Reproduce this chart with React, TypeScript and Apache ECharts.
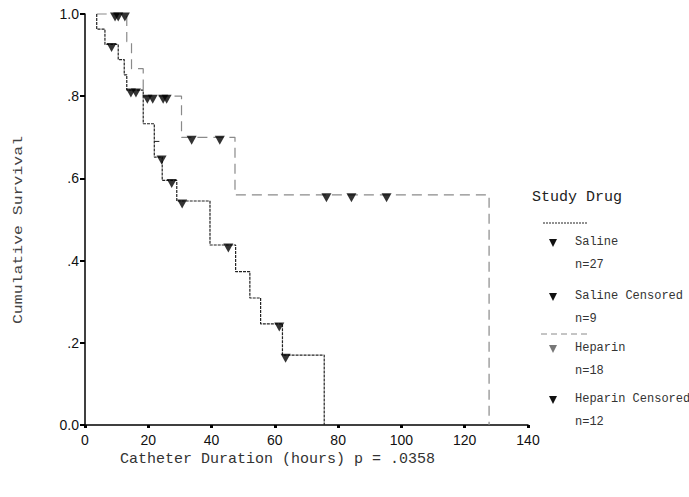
import React, { useEffect, useRef } from "react";
import * as echarts from "echarts";

// Tick labels
const xTicks = [0, 20, 40, 60, 80, 100, 120, 140];
const yTickLabels: Record<string, string> = { "0": "0.0", "0.2": ".2", "0.4": ".4", "0.6": ".6", "0.8": ".8", "1": "1.0" };

// Kaplan-Meier step points: [hours, cumulative survival]
const salineSteps: [number, number][] = [
  [3.7, 1.0], [3.7, 0.963], [6.3, 0.926], [10.5, 0.889], [12.4, 0.852], [13.2, 0.815],
  [18.4, 0.733], [21.9, 0.652], [24.4, 0.595], [29.0, 0.545], [39.5, 0.438],
  [47.6, 0.373], [52.1, 0.309], [55.5, 0.246], [62.4, 0.17], [75.6, 0.0],
];
const salineTick: [number, number][] = [[21.9, 0.69], [23.5, 0.69]];
const salineCensored: [number, number][] = [
  [8.4, 0.926], [14.5, 0.815], [16.1, 0.815], [24.2, 0.652], [27.4, 0.595],
  [30.7, 0.545], [45.3, 0.438], [61.4, 0.246], [63.4, 0.17],
];
const heparinSteps: [number, number][] = [
  [3.7, 1.0], [13.2, 0.933], [14.7, 0.867], [18.4, 0.8], [30.5, 0.7], [47.4, 0.56], [127.7, 0.0],
];
const heparinCensored: [number, number][] = [
  [9.5, 1.0], [10.5, 1.0], [12.6, 1.0], [19.7, 0.8], [21.4, 0.8], [24.7, 0.8], [25.8, 0.8],
  [33.7, 0.7], [42.6, 0.7], [76.3, 0.56], [84.2, 0.56], [95.3, 0.56],
];

// Legend texts
const legendTitle = "Study Drug";
const legendItems = ["Saline", "Saline Censored", "Heparin", "Heparin Censored"];
const legendCounts = ["n=27", "n=9", "n=18", "n=12"];
const xTitle = "Catheter Duration (hours) p = .0358";
const yTitle = "Cumulative Survival";

const MONO = "'Liberation Mono', 'DejaVu Sans Mono', monospace";
const SANS = "'Liberation Sans', Arial, sans-serif";
const SALINE_COLOR = "#222";
const HEPARIN_COLOR = "#8a8a8a";

function tri(cx: number, cy: number, color: string) {
  return {
    type: "polygon",
    shape: { points: [[cx - 4, cy - 4], [cx + 4, cy - 4], [cx, cy + 4]] },
    style: { fill: color },
  };
}

export default function App() {
  const ref = useRef<HTMLDivElement>(null);
  useEffect(() => {
    if (!ref.current) return;
    const chart = echarts.init(ref.current, undefined, { renderer: "svg" });
    const rowY = [243, 297, 349, 400];
    const triColors = ["#111", "#111", "#777", "#111"];
    const legendGraphics: any[] = [
      { type: "text", left: 532, top: 190, style: { text: legendTitle, font: `15px ${MONO}`, fill: "#222" } },
      { type: "line", shape: { x1: 543, y1: 223, x2: 588, y2: 223 }, style: { stroke: SALINE_COLOR, lineWidth: 1, lineDash: [2, 1] } },
      { type: "line", shape: { x1: 541, y1: 334, x2: 587, y2: 334 }, style: { stroke: HEPARIN_COLOR, lineWidth: 1, lineDash: [6, 4] } },
    ];
    legendItems.forEach((name, i) => {
      legendGraphics.push(tri(553, rowY[i], triColors[i]));
      legendGraphics.push({ type: "text", left: 575, top: rowY[i] - 7, style: { text: name, font: `12px ${MONO}`, fill: "#333" } });
      legendGraphics.push({ type: "text", left: 575, top: rowY[i] + 16, style: { text: legendCounts[i], font: `12px ${MONO}`, fill: "#333" } });
    });
    legendGraphics.push({ type: "text", left: 120, top: 452, style: { text: xTitle, font: `15px ${MONO}`, fill: "#333" } });
    legendGraphics.push({
      type: "text", x: 19, y: 230, rotation: Math.PI / 2, scaleX: 1.27,
      style: { text: yTitle, font: `13px ${MONO}`, fill: "#444", align: "center", verticalAlign: "middle" },
    });

    chart.setOption({
      animation: false,
      backgroundColor: "#fff",
      grid: { left: 85, right: 161, top: 14, bottom: 72, containLabel: false },
      xAxis: {
        type: "value", min: 0, max: 140, interval: 20,
        axisLine: { show: true, onZero: false, lineStyle: { color: "#000", width: 1.5 } },
        axisTick: { show: true, inside: false, length: 3, lineStyle: { color: "#000", width: 3 } },
        axisLabel: { color: "#111", fontFamily: SANS, fontSize: 14, margin: 8, formatter: (v: number) => (xTicks.includes(v) ? String(v) : "") },
        splitLine: { show: false },
      },
      yAxis: {
        type: "value", min: 0, max: 1, interval: 0.2,
        axisLine: { show: true, onZero: false, lineStyle: { color: "#000", width: 1.5 } },
        axisTick: { show: true, inside: false, length: 5, lineStyle: { color: "#000", width: 2 } },
        axisLabel: { color: "#111", fontFamily: SANS, fontSize: 14, margin: 6, formatter: (v: number) => yTickLabels[String(Math.round(v * 10) / 10)] ?? "" },
        splitLine: { show: false },
      },
      graphic: legendGraphics,
      series: [
        {
          type: "line", name: "Heparin", data: heparinSteps, step: "end", showSymbol: false, symbol: "none",
          lineStyle: { color: HEPARIN_COLOR, width: 1.2, type: [10, 6] }, clip: false, z: 2,
        },
        {
          type: "line", name: "Saline", data: salineSteps, step: "end", showSymbol: false, symbol: "none",
          lineStyle: { color: SALINE_COLOR, width: 1.2, type: [3, 1] }, clip: false, z: 3,
        },
        {
          type: "line", name: "SalineTick", data: salineTick, showSymbol: false, symbol: "none",
          lineStyle: { color: SALINE_COLOR, width: 1, type: "solid" }, clip: false, z: 3,
        },
        {
          type: "scatter", name: "Saline Censored", data: salineCensored, symbol: "triangle", symbolRotate: 180,
          symbolSize: [10, 9], symbolOffset: [0, 3], itemStyle: { color: "#000" }, clip: false, z: 4,
        },
        {
          type: "scatter", name: "Heparin Censored", data: heparinCensored, symbol: "triangle", symbolRotate: 180,
          symbolSize: [10, 9], symbolOffset: [0, 3], itemStyle: { color: "#000" }, clip: false, z: 4,
        },
      ],
    });
    return () => chart.dispose();
  }, []);
  return <div ref={ref} style={{ position: "absolute", left: 0, top: 0, width: 689, height: 497, background: "#fff" }} />;
}
